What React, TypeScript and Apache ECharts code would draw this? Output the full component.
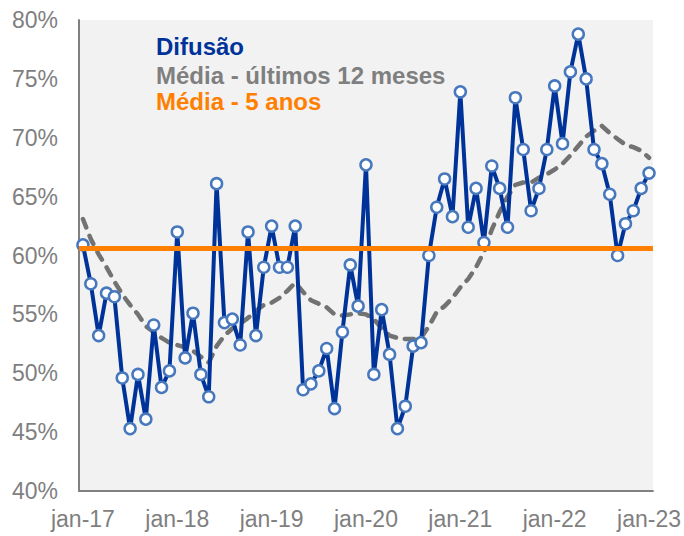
import React, { useEffect, useRef } from "react";
import * as echarts from "echarts";

// ---- data ----
const monthNames = ["jan", "fev", "mar", "abr", "mai", "jun", "jul", "ago", "set", "out", "nov", "dez"];
const years = ["17", "18", "19", "20", "21", "22", "23"];
const categories: string[] = years
  .flatMap((y) => monthNames.map((m) => `${m}-${y}`))
  .slice(0, 73);

// Difusão (monthly, jan-17 .. jan-23), %
const diffusion = [
  60.9, 57.6, 53.2, 56.8, 56.5, 49.6, 45.3, 49.9, 46.1, 54.1, 48.8, 50.2,
  62.0, 51.3, 55.1, 49.9, 48.0, 66.1, 54.3, 54.6, 52.4, 62.0, 53.2, 59.0,
  62.5, 59.0, 59.0, 62.5, 48.6, 49.1, 50.2, 52.1, 47.0, 53.5, 59.2, 55.7,
  67.7, 49.9, 55.4, 51.6, 45.3, 47.2, 52.3, 52.6, 60.0, 64.1, 66.5, 63.3,
  73.9, 62.4, 65.7, 61.1, 67.6, 65.7, 62.4, 73.4, 69.0, 63.8, 65.7, 69.0,
  74.4, 69.5, 75.6, 78.8, 75.0, 69.0, 67.8, 65.2, 60.0, 62.7, 63.8, 65.7,
  67.0,
];

// Média - últimos 12 meses, %
const avg12m = [
  63.1, 61.4, 60.1, 59.0, 57.8, 56.7, 55.8, 55.0, 54.0, 53.5, 53.0, 52.6,
  52.4, 52.2, 51.9, 51.4, 50.9, 52.3, 53.2, 53.8, 54.2, 54.7, 55.3, 55.8,
  56.0, 56.4, 57.0, 57.7, 56.9, 56.2, 55.9, 55.6, 55.0, 54.9, 55.0, 55.1,
  55.0, 54.6, 53.8, 53.2, 53.0, 52.9, 52.9, 53.0, 54.0, 55.2, 55.7, 56.4,
  57.3, 58.0, 59.0, 60.3, 62.2, 63.7, 65.0, 66.0, 66.2, 66.2, 66.6, 66.9,
  67.3, 67.8, 68.5, 69.3, 70.1, 70.6, 71.0, 70.4, 69.9, 69.4, 69.2, 68.9,
  68.3,
];

// Média - 5 anos, %
const fiveYearMean = 60.6;

const yMin = 40;
const yMax = 80;
const yStep = 5;

const legendItems = [
  { text: "Difusão", color: "#003399" },
  { text: "Média - últimos 12 meses", color: "#7f7f7f" },
  { text: "Média - 5 anos", color: "#ff7f00" },
];

const FONT = "'Liberation Sans', Arial, Helvetica, sans-serif";

export default function App() {
  const ref = useRef<HTMLDivElement>(null);

  useEffect(() => {
    if (!ref.current) return;
    document.body.style.margin = "0";
    const chart = echarts.init(ref.current, undefined, { renderer: "svg" });

    const legendY = [46, 75, 101];

    chart.setOption({
      animation: false,
      backgroundColor: "#ffffff",
      grid: {
        left: 79,
        right: 31,
        top: 20,
        bottom: 45,
        show: true,
        backgroundColor: "#f2f2f2",
        borderWidth: 0,
      },
      xAxis: {
        type: "category",
        data: categories,
        boundaryGap: true,
        axisLine: { show: true, lineStyle: { color: "#808080", width: 2 } },
        axisTick: { show: false },
        splitLine: { show: false },
        axisLabel: {
          interval: (index: number) => index % 12 === 0,
          color: "#7f7f7f",
          fontSize: 23,
          fontFamily: FONT,
          margin: 16,
        },
      },
      yAxis: {
        type: "value",
        min: yMin,
        max: yMax,
        interval: yStep,
        axisLine: { show: true, lineStyle: { color: "#808080", width: 2 } },
        axisTick: { show: false },
        splitLine: { show: false },
        axisLabel: {
          formatter: (v: number) => `${v}%`,
          color: "#7f7f7f",
          fontSize: 23,
          fontFamily: FONT,
          margin: 21,
        },
      },
      graphic: legendItems.map((it, i) => ({
        type: "text",
        left: 156,
        top: legendY[i] - 12,
        z: 100,
        style: {
          text: it.text,
          fill: it.color,
          font: `bold 24px ${FONT}`,
        },
      })),
      series: [
        {
          name: "Média - últimos 12 meses",
          type: "line",
          data: avg12m,
          symbol: "none",
          z: 2,
          lineStyle: { color: "#727272", width: 4.5, type: [9, 9], cap: "round" },
        },
        {
          name: "Média - 5 anos",
          type: "line",
          data: [],
          z: 3,
          markLine: {
            silent: true,
            symbol: ["none", "none"],
            label: { show: false },
            lineStyle: { color: "#ff7f00", width: 5, type: "solid" },
            data: [{ yAxis: fiveYearMean }],
          },
        },
        {
          name: "Difusão",
          type: "line",
          data: diffusion,
          z: 4,
          symbol: "circle",
          symbolSize: 11,
          showAllSymbol: true,
          lineStyle: { color: "#003399", width: 4 },
          itemStyle: { color: "#ffffff", borderColor: "#4778be", borderWidth: 2.5 },
        },
      ],
    });

    return () => chart.dispose();
  }, []);

  return (
    <div
      ref={ref}
      style={{ position: "fixed", left: 0, top: 0, width: 684, height: 536 }}
    />
  );
}
